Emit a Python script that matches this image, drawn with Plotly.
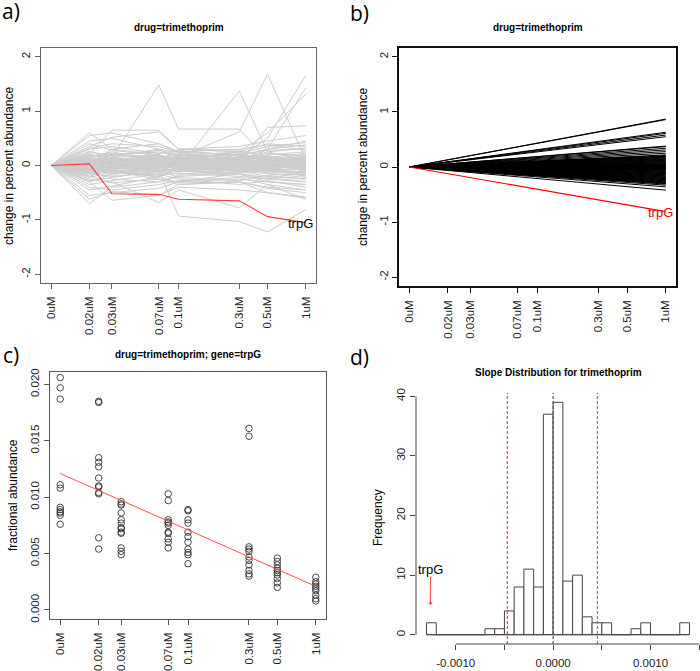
import math
import plotly.graph_objects as go

# ---------------- data ----------------
conc_labels = ["0uM", "0.02uM", "0.03uM", "0.07uM", "0.1uM", "0.3uM", "0.5uM", "1uM"]
conc_values = [0, 0.02, 0.03, 0.07, 0.1, 0.3, 0.5, 1]
ZERO_POS = 0.01  # where the 0uM dose sits on the log dose axis

# panel a: change in percent abundance at 0.02 ... 1uM (value at 0uM is 0)
gene_changes = [
    [0.05, 0.02, 0.08, 0.04, 0.01, -0.03, 0.02],
    [-0.04, 0.06, -0.02, 0.05, 0.08, 0.03, -0.05],
    [0.12, 0.09, 0.05, -0.02, 0.04, 0.10, 0.15],
    [-0.10, -0.06, 0.02, 0.07, -0.03, -0.08, -0.12],
    [0.18, 0.22, 0.15, 0.10, 0.06, 0.12, 0.08],
    [-0.15, -0.20, -0.12, -0.05, -0.10, -0.15, -0.18],
    [0.08, -0.05, 0.12, 0.15, 0.09, 0.02, -0.02],
    [-0.02, 0.14, 0.06, -0.08, -0.04, 0.05, 0.12],
    [0.25, 0.18, 0.28, 0.20, 0.12, 0.15, 0.22],
    [-0.22, -0.12, -0.18, -0.14, -0.20, -0.25, -0.10],
    [0.03, 0.30, 0.20, 0.08, 0.15, 0.22, 0.18],
    [-0.08, -0.25, -0.30, -0.18, -0.12, -0.05, -0.20],
    [0.30, 0.35, 0.22, 0.28, 0.18, 0.08, 0.05],
    [-0.30, -0.15, -0.08, -0.22, -0.28, -0.18, -0.25],
    [0.10, 0.04, -0.10, 0.02, 0.20, 0.28, 0.30],
    [-0.12, 0.02, 0.10, -0.10, -0.16, -0.30, -0.35],
    [0.20, 0.12, 0.02, 0.18, 0.25, 0.05, -0.08],
    [-0.18, -0.08, -0.22, -0.02, 0.05, 0.10, 0.02],
    [0.40, 0.28, 0.18, 0.12, 0.08, 0.20, 0.25],
    [-0.35, -0.28, -0.15, -0.10, -0.06, -0.12, -0.02],
    [0.06, 0.16, 0.30, 0.24, 0.10, -0.02, -0.06],
    [0.00, -0.10, -0.05, 0.12, 0.02, -0.10, -0.15],
    [0.15, 0.25, 0.10, -0.06, -0.08, 0.00, 0.10],
    [-0.06, -0.18, 0.05, 0.20, 0.14, 0.18, 0.08],
    [0.22, 0.05, -0.04, 0.06, -0.02, 0.06, 0.14],
    [-0.25, -0.32, -0.25, -0.30, -0.15, -0.22, -0.30],
    [0.02, 0.08, 0.16, 0.10, 0.22, 0.35, 0.42],
    [-0.02, -0.02, 0.00, -0.03, 0.00, 0.02, -0.01],
    [0.09, 0.12, 0.04, 0.00, -0.06, -0.02, 0.06],
    [-0.09, 0.00, -0.08, -0.12, 0.06, 0.12, 0.20],
    [0.14, -0.02, 0.08, 0.30, 0.28, 0.15, 0.10],
    [-0.14, -0.10, -0.16, -0.25, -0.35, -0.28, -0.40],
    [0.32, 0.40, 0.35, 0.25, 0.30, 0.38, 0.28],
    [-0.40, -0.45, -0.35, -0.28, -0.22, -0.35, -0.45],
    [0.00, 0.10, 0.20, 0.05, -0.10, -0.20, -0.25],
    [0.04, -0.12, -0.20, -0.08, 0.03, 0.14, 0.04],
    [0.17, 0.20, 0.25, 0.16, 0.10, 0.25, 0.32],
    [-0.05, 0.04, -0.12, -0.16, -0.08, 0.08, -0.08],
    [0.07, 0.00, 0.03, 0.10, 0.16, 0.00, 0.16],
    [-0.20, -0.05, 0.04, 0.00, -0.12, -0.08, 0.00],
    [0.45, 0.50, 0.30, 0.15, 0.20, 0.10, 0.00],
    [-0.45, -0.38, -0.20, -0.32, -0.30, -0.42, -0.50],
    [0.01, -0.03, 0.01, 0.02, -0.01, -0.04, 0.00],
    [0.11, 0.07, 0.14, 0.07, 0.12, 0.18, -0.10],
    [-0.11, -0.14, -0.04, 0.08, 0.10, -0.05, -0.14],
    [0.26, 0.14, 0.10, 0.22, 0.05, -0.05, 0.12],
    [-0.28, -0.22, -0.10, 0.03, -0.02, 0.04, -0.06],
    [0.05, 0.20, 0.12, -0.04, 0.00, 0.30, 0.45],
    [-0.03, -0.08, 0.07, 0.14, 0.04, -0.15, -0.22],
    [0.13, 0.03, -0.06, -0.10, -0.14, -0.08, 0.05],
    [0.02, 0.05, -0.03, -0.06, 0.03, 0.07, -0.04],
    [-0.06, -0.02, 0.04, 0.09, 0.06, -0.02, 0.05],
    [0.08, 0.11, 0.09, 0.03, -0.05, -0.09, -0.07],
    [-0.07, -0.09, -0.07, -0.01, 0.10, 0.06, 0.09],
    [0.04, 0.07, 0.11, 0.13, 0.06, 0.09, 0.18],
    [-0.01, 0.03, -0.09, -0.11, -0.09, -0.12, -0.16],
    [0.16, 0.08, 0.00, -0.03, 0.07, 0.16, 0.07],
    [-0.13, -0.04, 0.00, 0.05, -0.06, 0.00, 0.11],
    [0.03, -0.07, -0.02, 0.09, 0.13, 0.04, -0.11],
    [0.10, 0.15, 0.19, 0.11, -0.02, -0.07, 0.03],
    [-0.04, -0.13, -0.10, -0.06, -0.01, 0.09, 0.13],
    [0.06, 0.01, 0.06, -0.02, -0.11, -0.04, -0.19],
    [0.55, 0.60, 0.40, 0.25, 0.18, 0.30, 0.38],
    [-0.55, -0.50, -0.42, -0.30, -0.25, -0.30, -0.35],
    [0.35, 0.52, 0.62, 0.30, 0.35, 0.45, 0.55],
    [-0.62, -0.48, -0.55, -0.40, -0.45, -0.50, -0.58],
    [0.60, 0.30, 0.40, 0.25, 0.20, 0.12, 0.15],
    [-0.70, -0.40, -0.30, -0.20, -0.15, -0.25, -0.30],
    [0.20, 0.65, 0.65, 0.30, 0.25, 0.40, 0.35],
    [-0.30, -0.64, -0.55, -0.35, -0.30, -0.40, -0.45],
    [0.10, 0.15, 1.48, 0.67, 0.67, 0.10, 0.05],
    [0.05, 0.00, -0.10, -0.05, 1.37, 0.25, 0.10],
    [0.10, 0.20, 0.10, 0.15, 0.62, 1.68, 0.10],
    [0.10, 0.10, 0.00, 0.05, 0.15, 0.50, 1.66],
    [-0.10, 0.00, 0.10, 0.05, 0.10, 0.30, 1.43],
    [0.05, 0.15, 0.05, 0.10, 0.25, 0.60, 1.31],
    [0.00, -0.05, -0.10, -0.93, -1.03, -1.22, -0.81],
    [-0.20, -0.30, -0.68, -0.45, -0.78, -0.35, -0.62],
    [0.10, 0.05, 0.15, 0.20, 0.05, 0.70, 0.73],
    [-0.15, -0.10, -0.25, -0.35, -0.30, -0.50, -0.60],
]
trpG_changes = [0.03, -0.52, -0.53, -0.62, -0.65, -0.94, -1.05]

# panel b: fitted change at 1uM for each gene (fit starts at 0 at 0uM)
fitted_end_values = [
    0.87, 0.86, 0.63, 0.61, 0.58, 0.55, 0.38, 0.37, 0.34, 0.31, 0.28, 0.25,
    0.22, 0.21, 0.20, 0.19, 0.18, 0.17, 0.16, 0.15, 0.14, 0.13, 0.12, 0.11,
    0.10, 0.09, 0.08, 0.07, 0.06, 0.05, 0.045, 0.04, 0.035, 0.03, 0.025, 0.02,
    0.015, 0.01, 0.005, 0.0, -0.005, -0.01, -0.015, -0.02, -0.025, -0.03,
    -0.035, -0.04, -0.045, -0.05, -0.06, -0.07, -0.08, -0.09, -0.10, -0.11,
    -0.12, -0.13, -0.14, -0.15, -0.16, -0.17, -0.18, -0.19, -0.20, -0.21,
    -0.22, -0.23, -0.24, -0.25, -0.26, -0.27, -0.28, -0.29, -0.30, -0.31,
    -0.33, -0.36, -0.42,
]
trpG_fitted_end = -0.81

# panel c: fractional abundance of trpG per dose
trpG_abundance = [
    [0.0206, 0.0197, 0.0187, 0.0111, 0.0108, 0.0091, 0.0089, 0.0087, 0.0086, 0.0084, 0.0076],
    [0.0185, 0.0184, 0.0135, 0.0131, 0.0127, 0.0117, 0.0110, 0.0109, 0.0104, 0.0103, 0.0064, 0.0054],
    [0.0096, 0.0094, 0.0093, 0.0086, 0.0080, 0.0077, 0.0073, 0.0072, 0.0069, 0.0068, 0.0055, 0.0052, 0.0049],
    [0.0103, 0.0097, 0.0080, 0.0078, 0.0077, 0.0075, 0.0069, 0.0068, 0.0063, 0.0060, 0.0055],
    [0.0089, 0.0088, 0.0080, 0.0077, 0.0069, 0.0065, 0.0060, 0.0054, 0.0051, 0.0049, 0.0041],
    [0.0161, 0.0154, 0.0056, 0.0054, 0.0052, 0.0047, 0.0044, 0.0040, 0.0035, 0.0032, 0.0030],
    [0.0046, 0.0043, 0.0040, 0.0037, 0.0035, 0.0033, 0.0031, 0.0028, 0.0024, 0.0020],
    [0.0029, 0.0025, 0.0023, 0.0021, 0.0019, 0.0017, 0.0013, 0.0010, 0.0008],
]
trpG_fit_start = 0.0121
trpG_fit_end = 0.0021

# panel d: slope histogram
bin_edges = [-0.0013, -0.0012, -0.0011, -0.0010, -0.0009, -0.0008, -0.0007, -0.0006,
             -0.0005, -0.0004, -0.0003, -0.0002, -0.0001, 0.0, 0.0001, 0.0002, 0.0003,
             0.0004, 0.0005, 0.0006, 0.0007, 0.0008, 0.0009, 0.0010, 0.0011, 0.0012,
             0.0013, 0.0014]
bin_counts = [2, 0, 0, 0, 0, 0, 1, 1, 4, 8, 11, 8, 37, 39, 9, 10, 3, 2, 2, 0, 0, 1, 2,
              0, 0, 0, 2]
lower_cutoff = -0.00047
upper_cutoff = 0.000455
trpG_slope = -0.00126
hist_ticks = [-0.0010, -0.0005, 0.0, 0.0005, 0.0010, 0.0015]
hist_tick_text = ["-0.0010", "", "0.0000", "", "0.0010", ""]

# ---------------- figure ----------------
W, H = 700, 671
def px(x):
    return x / W
def py(y):
    return 1 - y / H

xpos = [c if c > 0 else ZERO_POS for c in conc_values]
FONT = "Liberation Sans"

fig = go.Figure()

# panel a
ax_x, ax_y = [], []
for g in gene_changes:
    ax_x += xpos + [None]
    ax_y += [0] + g + [None]
fig.add_trace(go.Scatter(x=ax_x, y=ax_y, mode="lines", xaxis="x", yaxis="y",
                         line=dict(color="#cccccc", width=1), hoverinfo="skip"))
fig.add_trace(go.Scatter(x=xpos, y=[0] + trpG_changes, mode="lines", xaxis="x", yaxis="y",
                         line=dict(color="#ff3b3b", width=1.1)))

# panel b
bx, by = [], []
for e in fitted_end_values:
    bx += [xpos[0], xpos[-1], None]
    by += [0, e, None]
fig.add_trace(go.Scatter(x=bx, y=by, mode="lines", xaxis="x2", yaxis="y2",
                         line=dict(color="black", width=1), hoverinfo="skip"))
fig.add_trace(go.Scatter(x=[xpos[0], xpos[-1]], y=[0, trpG_fitted_end], mode="lines",
                         xaxis="x2", yaxis="y2", line=dict(color="#ff0000", width=1.1)))

# panel c
cx, cy = [], []
for xp, vals in zip(xpos, trpG_abundance):
    cx += [xp] * len(vals)
    cy += vals
fig.add_trace(go.Scatter(x=cx, y=cy, mode="markers", xaxis="x3", yaxis="y3",
                         marker=dict(symbol="circle-open", size=6.5, color="#333333",
                                     line=dict(width=0.9))))
fig.add_trace(go.Scatter(x=[xpos[0], xpos[-1]], y=[trpG_fit_start, trpG_fit_end],
                         mode="lines", xaxis="x3", yaxis="y3",
                         line=dict(color="#ff5050", width=1)))

# panel d
fig.add_trace(go.Scatter(x=[bin_edges[0], bin_edges[-1]], y=[0, 0], mode="lines",
                         xaxis="x4", yaxis="y4", line=dict(color="#444444", width=1)))
centers = [(a + b) / 2 for a, b in zip(bin_edges[:-1], bin_edges[1:])]
widths = [b - a for a, b in zip(bin_edges[:-1], bin_edges[1:])]
fig.add_trace(go.Bar(x=centers, y=bin_counts, width=widths, xaxis="x4", yaxis="y4",
                     marker=dict(color="white", line=dict(color="#444444", width=1))))
# cutoff / centre lines drawn as traces on top of the bars
for xv, col in [(lower_cutoff, "#ff4d4d"), (upper_cutoff, "#ff4d4d"), (0.0, "#555555")]:
    fig.add_trace(go.Scatter(x=[xv, xv], y=[-1.56, 40.56], mode="lines", xaxis="x4",
                             yaxis="y4", line=dict(color=col, width=1.2, dash="3px,2px"),
                             hoverinfo="skip"))

tickfont = dict(family=FONT, size=11.5, color="#222222")

def dose_axis(domain, anchor, color):
    return dict(domain=domain, anchor=anchor, type="log", range=[-2.08, 0.08],
                tickmode="array", tickvals=xpos, ticktext=conc_labels, tickangle=-90,
                ticks="outside", ticklen=5, tickcolor=color, tickfont=tickfont,
                ticklabelstandoff=3, automargin=False,
                showgrid=False, zeroline=False, showline=True, mirror=True,
                linecolor=color, linewidth=1)

def val_axis(domain, anchor, rng, tickvals, ticktext, color, standoff):
    return dict(domain=domain, anchor=anchor, range=rng, tickmode="array",
                tickvals=tickvals, ticktext=ticktext, tickangle=-90,
                ticks="outside", ticklen=5, tickcolor=color, tickfont=tickfont,
                ticklabelstandoff=standoff, automargin=False,
                showgrid=False, zeroline=False, showline=True, mirror=True,
                linecolor=color, linewidth=1)

ya_ticks = [-2, -1, 0, 1, 2]
ya_text = ["-2", "-1", "0", "1", "2"]

layout = dict(
    template="none",
    width=W, height=H, margin=dict(l=0, r=0, t=0, b=0, autoexpand=False),
    paper_bgcolor="white", plot_bgcolor="white", showlegend=False,
    font=dict(family=FONT, color="black"),
    xaxis=dose_axis([px(41), px(316)], "y", "#666666"),
    yaxis=val_axis([py(283), py(48)], "x", [-2.16, 2.16], ya_ticks, ya_text, "#666666", 0),
    xaxis2=dose_axis([px(399), px(676)], "y2", "#111111"),
    yaxis2=val_axis([py(286), py(48)], "x2", [-2.16, 2.16], ya_ticks, ya_text, "#111111", 0),
    xaxis3=dose_axis([px(50), px(326)], "y3", "#555555"),
    yaxis3=val_axis([py(619), py(372)], "x3", [-0.0008, 0.0211],
                    [0, 0.005, 0.010, 0.015, 0.020],
                    ["0.000", "0.005", "0.010", "0.015", "0.020"], "#555555", 0),
    xaxis4=dict(domain=[px(416), px(700)], anchor="y4", range=[-0.001408, 0.001508],
                tickmode="array", tickvals=hist_ticks, ticktext=hist_tick_text,
                ticks="outside", ticklen=5, tickcolor="#444444", tickfont=tickfont,
                ticklabelstandoff=3, automargin=False,
                showgrid=False, zeroline=False, showline=False),
    yaxis4=dict(domain=[py(644), py(393)], anchor="x4", range=[-1.56, 40.56],
                tickmode="array", tickvals=[0, 10, 20, 30, 40],
                ticktext=["0", "10", "20", "30", "40"], tickangle=-90,
                ticks="outside", ticklen=5, tickcolor="#444444", tickfont=tickfont,
                ticklabelstandoff=0, automargin=False,
                showgrid=False, zeroline=False, showline=False),
)
fig.update_layout(**layout)
fig.layout.yaxis2.linewidth = 1.6
fig.layout.xaxis2.linewidth = 1.6

# panel d axis lines, spanning only the tick range
fig.add_shape(type="line", xref="x4", yref="y4 domain", x0=hist_ticks[0], x1=hist_ticks[-1],
              y0=0, y1=0, line=dict(color="#444444", width=1))
fig.add_shape(type="line", xref="x4 domain", yref="y4", x0=0, x1=0, y0=0, y1=40,
              line=dict(color="#444444", width=1))

ann = []
def title(text, x, y):
    ann.append(dict(text="<b>%s</b>" % text, x=px(x), y=py(y), xref="paper", yref="paper",
                    showarrow=False, font=dict(family=FONT, size=10, color="black"),
                    xanchor="center", yanchor="middle"))
title("drug=trimethoprim", 178.5, 28)
title("drug=trimethoprim", 537.5, 28)
title("drug=trimethoprim; gene=trpG", 188, 354)
title("Slope Distribution for trimethoprim", 558, 372)

def ylab(text, x, y):
    ann.append(dict(text=text, x=px(x), y=py(y), xref="paper", yref="paper", textangle=-90,
                    showarrow=False, font=dict(family=FONT, size=12, color="black"),
                    xanchor="center", yanchor="middle"))
ylab("change in percent abundance", 9, 166)
ylab("change in percent abundance", 363, 167)
ylab("fractional abundance", 13, 495)
ylab("Frequency", 378, 518)

for letter, x, y in [("a)", 11, 11), ("b)", 360, 13), ("c)", 11, 355), ("d)", 360, 357)]:
    ann.append(dict(text=letter, x=px(x), y=py(y), xref="paper", yref="paper",
                    showarrow=False, font=dict(family="Open Sans", size=21,
                                                color="black"),
                    xanchor="center", yanchor="middle"))

ann.append(dict(text="trpG", x=math.log10(xpos[-1]), y=trpG_changes[-1] - 0.02, xref="x",
                yref="y", showarrow=False, xshift=-5,
                font=dict(family=FONT, size=13, color="black")))
ann.append(dict(text="trpG", x=math.log10(xpos[-1]), y=trpG_fitted_end - 0.01, xref="x2",
                yref="y2", showarrow=False, xshift=-5,
                font=dict(family=FONT, size=13, color="#ff0000")))
ann.append(dict(text="trpG", x=trpG_slope, y=11, xref="x4", yref="y4", showarrow=False,
                font=dict(family=FONT, size=13, color="black")))
ann.append(dict(text="", x=trpG_slope, y=5, ax=trpG_slope, ay=10, xref="x4", yref="y4",
                axref="x4", ayref="y4", showarrow=True, arrowhead=1, arrowsize=0.8,
                arrowwidth=1, arrowcolor="#ff4444"))
fig.update_layout(annotations=ann)

fig.write_html("out.html", config={"displayModeBar": False},
               post_script="document.body.style.margin='0';document.body.style.padding='0';")
